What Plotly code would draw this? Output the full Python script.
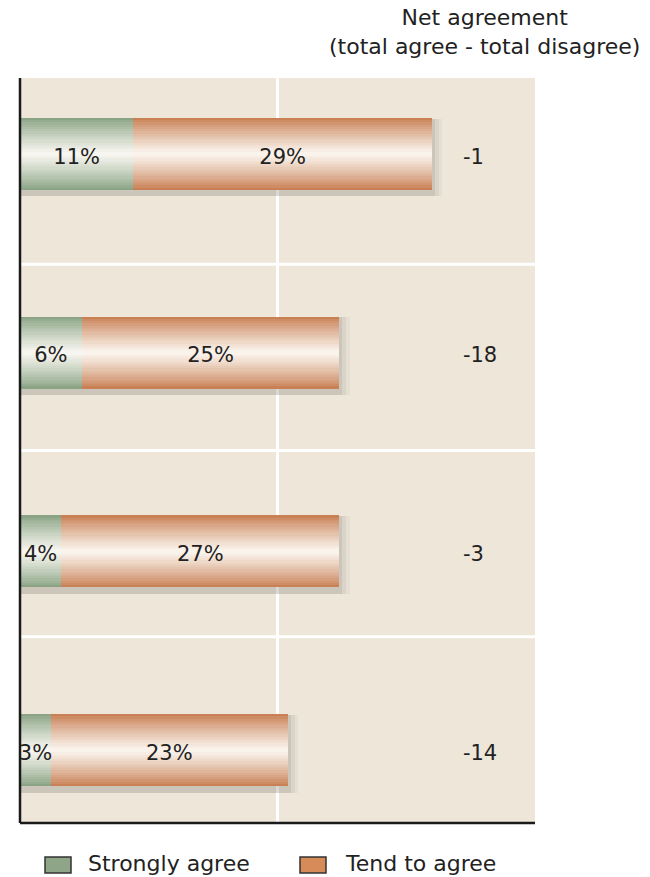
import plotly.graph_objects as go

# ---- data ----
series_names = ["Strongly agree", "Tend to agree"]
strongly_agree = [11, 6, 4, 3]
tend_to_agree = [29, 25, 27, 23]
net_agreement = [-1, -18, -3, -14]
net_title = "Net agreement<br>(total agree - total disagree)"

# ---- styles ----
FONT = "DejaVu Sans"
TXT = "#222222"
BG = "#ede6d9"
GREEN = (138, 164, 133)
ORANGE = (200, 128, 84)
WHITE = (253, 250, 245)
LEG_GREEN = (142, 165, 135)
LEG_ORANGE = (214, 139, 88)
BAR_W = 0.362
N_LAYERS = 16
TEXT_DROP = 0.022  # labels sit slightly below the bar centre

rows = list(range(len(strongly_agree)))
text_rows = [r + TEXT_DROP for r in rows]
totals = [a + b for a, b in zip(strongly_agree, tend_to_agree)]


def mix(c1, c2, t):
    return "rgb(%d,%d,%d)" % tuple(round(a + (b - a) * t) for a, b in zip(c1, c2))


fig = go.Figure()

# soft shadow
for dx, op in [(1.0, 0.06), (0.65, 0.09), (0.3, 0.13)]:
    fig.add_trace(go.Bar(
        y=rows, x=[t + dx for t in totals], base=0, orientation="h",
        width=BAR_W + 0.03, offset=-(BAR_W / 2) + 0.003,
        marker=dict(color="rgba(110,105,95,%.2f)" % op, line=dict(width=0)),
        showlegend=False, hoverinfo="skip",
    ))

# cylinder-like gradient bars built from stacked layers
for vals, bases, col in [
    (strongly_agree, [0] * len(rows), GREEN),
    (tend_to_agree, strongly_agree, ORANGE),
]:
    for i in range(N_LAYERS):
        f = 1 - i / N_LAYERS
        t = (1 - f) ** 0.85
        fig.add_trace(go.Bar(
            y=rows, x=vals, base=bases, orientation="h",
            width=BAR_W * f,
            marker=dict(color=mix(col, WHITE, t), line=dict(width=0)),
            showlegend=False, hoverinfo="skip",
        ))

# value labels inside the bars
fig.add_trace(go.Scatter(
    y=text_rows, x=[v / 2 for v in strongly_agree], mode="text",
    text=["%d%%" % v for v in strongly_agree],
    textfont=dict(family=FONT, size=21, color=TXT),
    showlegend=False, hoverinfo="skip",
))
fig.add_trace(go.Scatter(
    y=text_rows, x=[a + b / 2 for a, b in zip(strongly_agree, tend_to_agree)], mode="text",
    text=["%d%%" % v for v in tend_to_agree],
    textfont=dict(family=FONT, size=21, color=TXT),
    showlegend=False, hoverinfo="skip",
))
# net agreement column
fig.add_trace(go.Scatter(
    y=text_rows, x=[43.0] * len(rows), mode="text",
    text=[str(v) for v in net_agreement], textposition="middle right",
    textfont=dict(family=FONT, size=21, color=TXT),
    showlegend=False, hoverinfo="skip",
))

shapes = []
# white separators
for yy in (0.25, 0.5, 0.75):
    shapes.append(dict(type="line", xref="paper", yref="paper", x0=0, x1=1, y0=yy, y1=yy,
                       line=dict(color="white", width=3), layer="below"))
shapes.append(dict(type="line", xref="x", yref="paper", x0=25, x1=25, y0=0, y1=1,
                   line=dict(color="white", width=3), layer="below"))
# axis lines
shapes.append(dict(type="line", xref="paper", yref="paper", x0=0, x1=0, y0=0, y1=1,
                   line=dict(color="#1a1a1a", width=2.5)))
shapes.append(dict(type="line", xref="paper", yref="paper", x0=0, x1=1, y0=0, y1=0,
                   line=dict(color="#1a1a1a", width=2.5)))

annotations = [dict(
    text=net_title, xref="paper", yref="paper", x=0.901, y=1.0, yshift=75,
    xanchor="center", yanchor="top", align="center", showarrow=False,
    font=dict(family=FONT, size=22, color=TXT),
)]

# manual legend (plot area spans 515 x 745 px)
PW, PH = 515.0, 745.0
for name, c, lx, tx in zip(series_names, [LEG_GREEN, LEG_ORANGE], [45, 300], [88, 345]):
    shapes.append(dict(type="rect", xref="paper", yref="paper",
                       x0=(lx - 20) / PW, x1=(lx + 26 - 20) / PW,
                       y0=-(857 - 823) / PH, y1=-(873 - 823) / PH,
                       fillcolor=mix(c, c, 0), line=dict(color="#333", width=1.5)))
    annotations.append(dict(
        text=name, xref="paper", yref="paper", x=(tx - 20) / PW,
        y=-(864 - 823) / PH, xanchor="left", yanchor="middle", showarrow=False,
        xshift=-2, font=dict(family=FONT, size=22, color=TXT),
    ))

fig.update_layout(
    width=650, height=877,
    margin=dict(l=20, r=115, t=78, b=54),
    paper_bgcolor="white", plot_bgcolor=BG,
    barmode="overlay", bargap=0,
    showlegend=False,
    xaxis=dict(range=[0, 50], showgrid=False, zeroline=False, showticklabels=False,
               ticks="", fixedrange=True),
    yaxis=dict(range=[3.367, -0.382], showgrid=False, zeroline=False,
               showticklabels=False, ticks="", fixedrange=True),
    shapes=shapes, annotations=annotations,
)

fig.write_html(
    "out.html",
    config={"displayModeBar": False},
    post_script="document.body.style.margin='0';document.documentElement.style.overflow='hidden';",
)
